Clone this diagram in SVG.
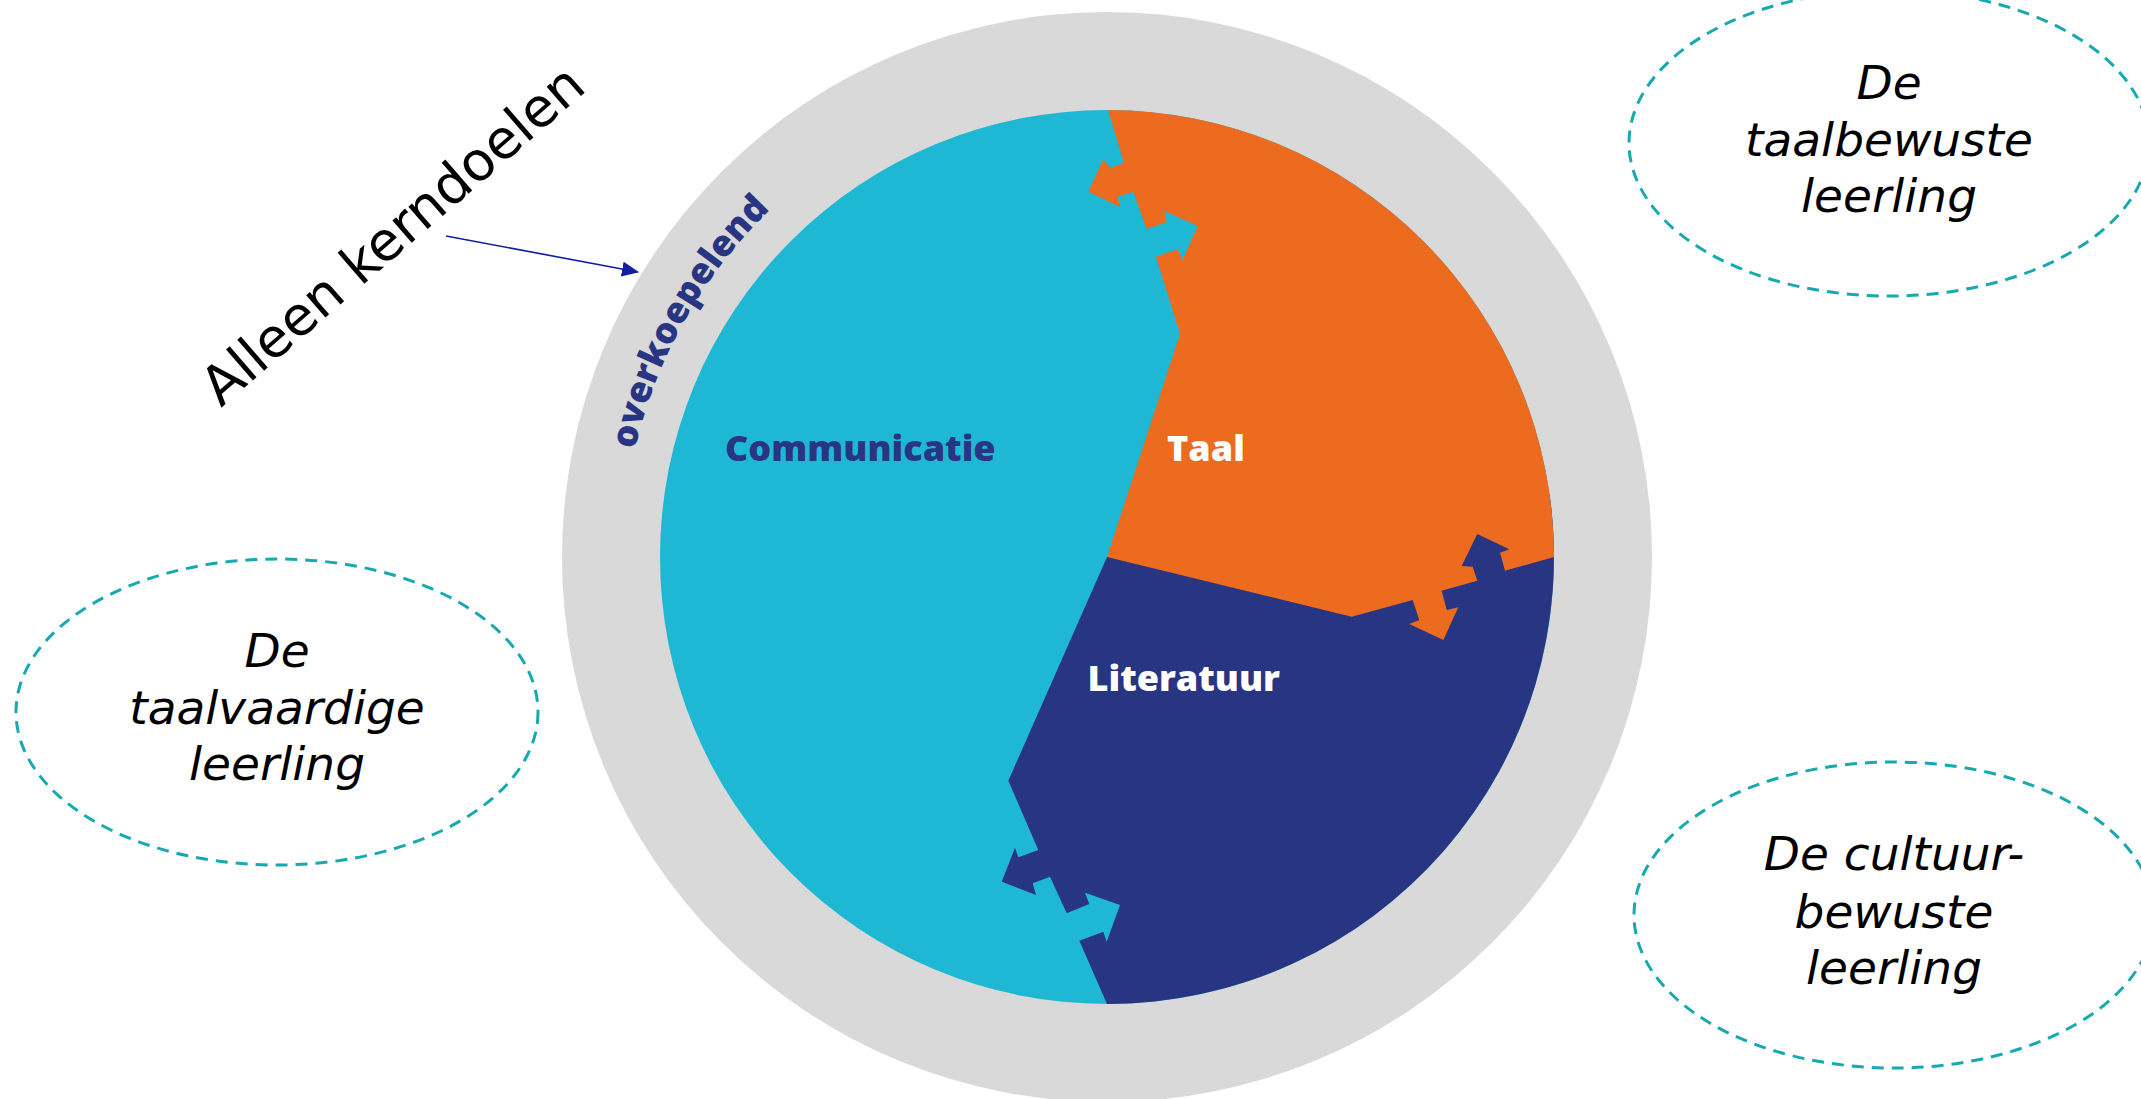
<svg xmlns="http://www.w3.org/2000/svg" width="2141" height="1099" viewBox="0 0 2141 1099">
<style>
.ell{fill:none;stroke:#16AAB0;stroke-width:3;stroke-dasharray:12 8}
.etxt{font-family:"DejaVu Sans",Verdana,sans-serif;font-style:italic;font-size:47px;fill:#000;text-anchor:middle}
.lbl{font-family:"Open Sans","Noto Sans",sans-serif;font-weight:800;font-size:36px}
</style>
<defs>
<marker id="ah" markerUnits="userSpaceOnUse" markerWidth="17" markerHeight="15" viewBox="0 0 17 15" refX="16" refY="7.5" orient="auto">
<path d="M0,0 L17,7.5 L0,15 Z" fill="#1020A0"/>
</marker>
<path id="arcText" d="M624.8,514.8 A484,484 0 0 1 941.5,102.2" fill="none"/>
</defs>
<rect width="2141" height="1099" fill="#ffffff"/>
<g id="ring">
<circle cx="1107" cy="557" r="545" fill="#D9D9D9"/>
<text class="lbl" fill="#283583" font-size="36.5"><textPath href="#arcText" startOffset="66">overkoepelend</textPath></text>
</g>
<g id="communicatie">
<circle cx="1107" cy="557" r="447" fill="#1FB8D4"/>
<text class="lbl" x="725" y="461" fill="#283583">Communicatie</text>
</g>
<g id="literatuur">
<path d="M1107,557 L1300,520 L1460,515 L1549.6,494.8 A447,447 0 0 1 1107,1004 L1079.3,940.7 L1103.3,931.7 L1106.7,941.7 L1120,905 L1085,892.7 L1089.3,904 L1066.7,913.3 L1050,876.7 L1032.7,883.3 L1036,895 L1001.7,881.7 L1015,847.7 L1018.3,857.3 L1038.3,850 L1008.3,780.7 Z" fill="#283583"/>
<text class="lbl" x="1087.5" y="691" fill="#ffffff">Literatuur</text>
</g>
<g id="taal">
<path d="M1108,110 L1124,163.3 L1110,167.7 L1103.3,159.3 L1088.3,191.7 L1120.7,207.3 L1117.3,196.7 L1133.3,191.7 L1146.7,229 L1166.7,222.3 L1164.3,211 L1197.7,226 L1182.7,260 L1177.3,249.3 L1156,256.7 L1180,334 L1107,557 L1351.7,616.7 L1412.7,600 L1419.3,620 L1409.3,624 L1443.3,640 L1458.3,607.3 L1446.7,610 L1441.7,590.7 L1477.3,580.7 L1472.7,566.7 L1461.7,566 L1477.3,534 L1509.3,549.3 L1500,552.7 L1505,570.7 L1554,557 A447,447 0 0 0 1108,110 Z" fill="#EC6B1E"/>
<text class="lbl" x="1167" y="461" fill="#ffffff">Taal</text>
</g>
<g id="alleen-kerndoelen">
<text transform="translate(221,408) rotate(-40.9)" x="0" y="0" font-family="DejaVu Sans, sans-serif" font-size="54" fill="#000">Alleen kerndoelen</text>
</g>
<g id="taalbewuste">
<ellipse class="ell" cx="1889" cy="143" rx="260" ry="153"/>
<text class="etxt" x="1889" y="99">De</text>
<text class="etxt" x="1889" y="156">taalbewuste</text>
<text class="etxt" x="1889" y="212">leerling</text>
</g>
<g id="taalvaardige">
<ellipse class="ell" cx="277" cy="712" rx="261" ry="153"/>
<text class="etxt" x="277" y="667">De</text>
<text class="etxt" x="277" y="724">taalvaardige</text>
<text class="etxt" x="277" y="780">leerling</text>
</g>
<g id="cultuurbewuste">
<ellipse class="ell" cx="1894" cy="915" rx="260" ry="153"/>
<text class="etxt" x="1894" y="870">De cultuur-</text>
<text class="etxt" x="1894" y="928">bewuste</text>
<text class="etxt" x="1894" y="984">leerling</text>
</g>
<g id="connectors">
<line x1="446" y1="236" x2="638" y2="272" stroke="#1020A0" stroke-width="1.6" marker-end="url(#ah)"/>
</g>
</svg>
